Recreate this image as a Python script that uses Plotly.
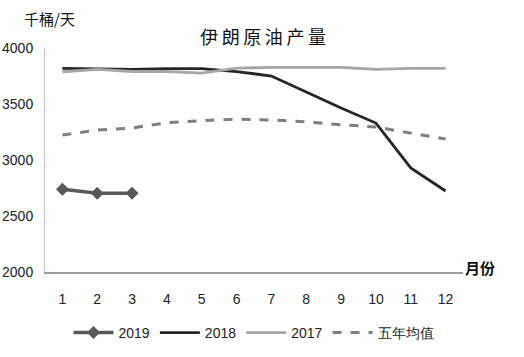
import plotly.graph_objects as go

months = [str(m) for m in range(1, 13)]
y2019 = [2738, 2703, 2703]
y2018 = [3818, 3812, 3810, 3815, 3815, 3790, 3750, 3607, 3464, 3330, 2929, 2723]
y2017 = [3788, 3810, 3790, 3790, 3775, 3820, 3827, 3827, 3827, 3810, 3818, 3818]
avg5 = [3223, 3268, 3286, 3333, 3351, 3366, 3357, 3340, 3315, 3295, 3240, 3187]
yticks = [2000, 2500, 3000, 3500, 4000]

FONT = "Liberation Sans, Arial, sans-serif"
CJK = "Noto Sans CJK SC"

fig = go.Figure()
fig.add_trace(go.Scatter(x=months[:3], y=y2019, name="2019", mode="lines+markers",
                         line=dict(color="#595959", width=3.5),
                         marker=dict(symbol="diamond", size=10, color="#595959")))
fig.add_trace(go.Scatter(x=months, y=y2018, name="2018", mode="lines",
                         line=dict(color="#262626", width=2.8)))
fig.add_trace(go.Scatter(x=months, y=y2017, name="2017", mode="lines",
                         line=dict(color="#a6a6a6", width=2.8)))
fig.add_trace(go.Scatter(x=months, y=avg5, name="五年均值", mode="lines",
                         line=dict(color="#7f7f7f", width=3, dash="dash")))

title_txt = "\u2009".join("伊朗原油产量")

fig.update_layout(
    width=524, height=357,
    margin=dict(l=45, r=61, t=48, b=85, autoexpand=False),
    plot_bgcolor="white", paper_bgcolor="white",
    font=dict(family=FONT, size=13, color="#222"),
    title=dict(text=title_txt, x=0.502, xanchor="center", y=1 - 38 / 357, yanchor="middle",
               font=dict(family=CJK, size=18, color="#111")),
    xaxis=dict(type="category", categoryorder="array", categoryarray=months,
               showgrid=False, showline=True, linecolor="#9a9a9a", linewidth=1.5,
               ticks="", ticklabelstandoff=13, tickfont=dict(size=14),
               range=[-0.5, 11.5], automargin=False),
    yaxis=dict(range=[2000, 4000], tickvals=yticks, showgrid=False,
               showline=True, linecolor="#c8c8c8", linewidth=1,
               ticks="", ticklabelstandoff=8, tickfont=dict(size=14), automargin=False),
    legend=dict(orientation="h", x=0.5, xanchor="center", y=-0.272, yanchor="middle",
                font=dict(family=FONT, size=14), itemwidth=40,
                traceorder="normal"),
    showlegend=True,
)
fig.add_annotation(text="千桶/天", xref="paper", yref="paper", x=-0.055, y=1 + 30 / 224,
                   xanchor="left", yanchor="middle", showarrow=False,
                   font=dict(family=CJK, size=15, color="#111"))
fig.add_annotation(text="<b>月份</b>", xref="paper", yref="paper", x=1.0, y=0.0, yshift=5,
                   xanchor="left", yanchor="middle", showarrow=False,
                   font=dict(family=CJK, size=15, color="#111"))

fig.write_html("out.html", config={"displayModeBar": False},
               post_script="document.body.style.margin='0';")
